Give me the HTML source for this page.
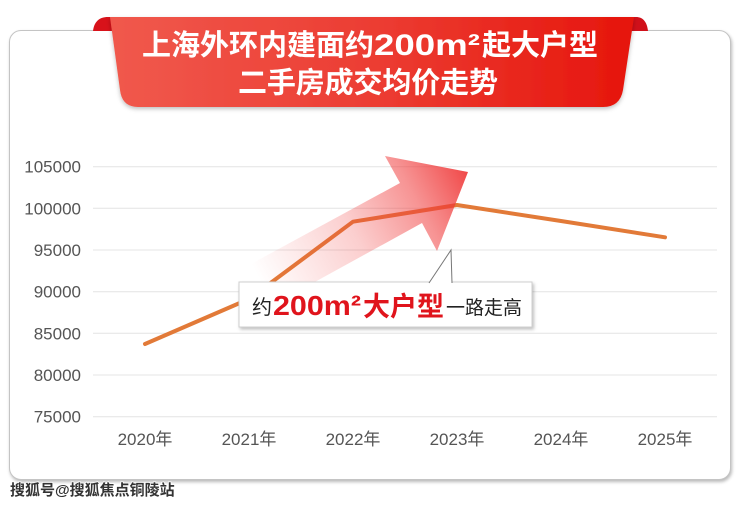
<!DOCTYPE html>
<html>
<head>
<meta charset="utf-8">
<style>
  html, body { margin:0; padding:0; background:#fff; }
  body { width:740px; height:505px; position:relative; overflow:hidden; }
  .card { position:absolute; left:9px; top:30px; width:720px; height:448px;
          border:1px solid #c4c4c4; border-radius:12px; background:#fff;
          box-shadow:1px 2px 3px rgba(0,0,0,0.28); }
  svg { position:absolute; left:0; top:0; }
</style>
</head>
<body>
<div class="card"></div>
<svg width="740" height="505" viewBox="0 0 740 505" xmlns="http://www.w3.org/2000/svg">
  <defs>
    <linearGradient id="rib" x1="0" y1="0" x2="1" y2="0">
      <stop offset="0" stop-color="#f0594d"/>
      <stop offset="0.5" stop-color="#ec3d33"/>
      <stop offset="1" stop-color="#e6150c"/>
    </linearGradient>
    <linearGradient id="arr" gradientUnits="userSpaceOnUse" x1="262" y1="284" x2="468" y2="172">
      <stop offset="0" stop-color="#f03c3c" stop-opacity="0"/>
      <stop offset="0.45" stop-color="#f03c3c" stop-opacity="0.25"/>
      <stop offset="0.75" stop-color="#f03c3c" stop-opacity="0.55"/>
      <stop offset="1" stop-color="#ee3030" stop-opacity="0.88"/>
    </linearGradient>
    <filter id="sh" x="-10%" y="-20%" width="120%" height="150%">
      <feDropShadow dx="0" dy="2" stdDeviation="2" flood-color="#000" flood-opacity="0.25"/>
    </filter>
    <filter id="bsh" x="-5%" y="-20%" width="110%" height="150%">
      <feDropShadow dx="1.5" dy="2" stdDeviation="1.5" flood-color="#000" flood-opacity="0.25"/>
    </filter>
  </defs>

  <!-- ribbon fold tabs -->
  <path d="M93,31 C94,22 99,17 108,17 L114,17 L114,31 Z" fill="#d8121a"/>
  <path d="M628,17 L636,17 C643,17 647,22 648,31 L628,31 Z" fill="#d0101a"/>
  <!-- ribbon main -->
  <path d="M110,17 L634,17 L623,90 Q620,107 603,107 L138,107 Q122,107 120,90 Z" fill="url(#rib)" filter="url(#sh)"/>

  <!-- title -->
  <g font-family="'Liberation Sans','Noto Sans CJK SC',sans-serif" font-weight="700" fill="#fff" font-size="29">
    <text x="142" y="55">上海外环内建面约</text>
    <text x="374" y="55" font-size="30" textLength="106" lengthAdjust="spacingAndGlyphs">200m²</text>
    <text x="482" y="55">起大户型</text>
    <text x="238" y="92.5" textLength="260" lengthAdjust="spacing">二手房成交均价走势</text>
  </g>

  <!-- gridlines -->
  <g stroke="#e4e4e4" stroke-width="1">
    <line x1="93" x2="717" y1="166.7" y2="166.7"/>
    <line x1="93" x2="717" y1="208.3" y2="208.3"/>
    <line x1="93" x2="717" y1="250" y2="250"/>
    <line x1="93" x2="717" y1="291.7" y2="291.7"/>
    <line x1="93" x2="717" y1="333.3" y2="333.3"/>
    <line x1="93" x2="717" y1="375" y2="375"/>
    <line x1="93" x2="717" y1="416.7" y2="416.7"/>
  </g>

  <!-- y labels -->
  <g font-family="'Liberation Sans',sans-serif" font-size="17" fill="#555" text-anchor="end">
    <text x="81" y="172.7">105000</text>
    <text x="81" y="214.3">100000</text>
    <text x="81" y="256">95000</text>
    <text x="81" y="297.7">90000</text>
    <text x="81" y="339.3">85000</text>
    <text x="81" y="381">80000</text>
    <text x="81" y="422.7">75000</text>
  </g>

  <!-- x labels -->
  <g font-family="'Liberation Sans','Noto Sans CJK SC',sans-serif" font-size="17" fill="#555" text-anchor="middle">
    <text x="145" y="445">2020年</text>
    <text x="249" y="445">2021年</text>
    <text x="353" y="445">2022年</text>
    <text x="457" y="445">2023年</text>
    <text x="561" y="445">2024年</text>
    <text x="665" y="445">2025年</text>
  </g>

  <!-- data line -->
  <polyline points="145,344 249,299 353,221.7 457,205 561,221 665,237.3" fill="none" stroke="#e27a38" stroke-width="4" stroke-linejoin="round" stroke-linecap="round"/>

  <!-- arrow -->
  <polygon points="468,172 385,156 400,183 251,264 273,305 422,223 437,251" fill="url(#arr)"/>

  <!-- callout -->
  <rect x="239" y="282" width="293" height="45" fill="#fff" stroke="#cfcfcf" stroke-width="1" filter="url(#bsh)"/>
  <polygon points="429,283 451,250 452,283" fill="#fff"/>
  <polyline points="429,283 451,250 452,283" fill="none" stroke="#777" stroke-width="1"/>
  <g font-family="'Liberation Sans','Noto Sans CJK SC',sans-serif">
    <text x="252" y="314" font-size="20" fill="#222">约</text>
    <text x="273" y="315" font-size="28" font-weight="700" fill="#e0141c" textLength="88" lengthAdjust="spacingAndGlyphs">200m²</text>
    <text x="363" y="316" font-size="27" font-weight="700" fill="#e0141c">大户型</text>
    <text x="446" y="314" font-size="19" fill="#222">一路走高</text>
  </g>

  <!-- watermark -->
  <text x="10" y="495" font-family="'Liberation Sans','Noto Sans CJK SC',sans-serif" font-size="15" font-weight="700" fill="#333" stroke="#fff" stroke-width="1.5" paint-order="stroke">搜狐号@搜狐焦点铜陵站</text>
</svg>
</body>
</html>
